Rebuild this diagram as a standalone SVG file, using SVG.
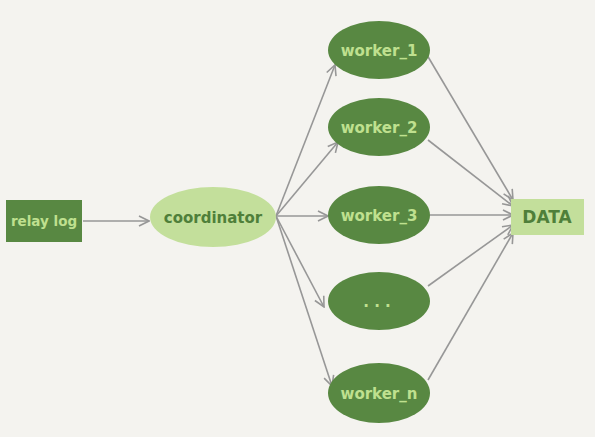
<svg xmlns="http://www.w3.org/2000/svg" width="595" height="437" viewBox="0 0 595 437">
  <defs>
    <marker id="arrow" viewBox="0 0 12 12" refX="11" refY="6" markerWidth="12" markerHeight="12" markerUnits="userSpaceOnUse" orient="auto">
      <path d="M1,1 L11,6 L1,11" fill="none" stroke="#979797" stroke-width="1.6"/>
    </marker>
    <style>
      .edge { stroke: #979797; stroke-width: 1.6; fill: none; marker-end: url(#arrow); }
      .dark { fill: #588842; }
      .light { fill: #c3df9b; }
      .t-light { fill: #bfe08f; font-family: "DejaVu Sans", sans-serif; font-size: 15px; font-weight: bold; text-anchor: middle; }
      .t-dark { fill: #4f7f3a; font-family: "DejaVu Sans", sans-serif; font-size: 15px; font-weight: bold; text-anchor: middle; }
    </style>
  </defs>
  <rect width="595" height="437" fill="#f4f3ef"/>

  <g id="connectors">
    <line class="edge" x1="83" y1="221" x2="149" y2="221"/>
    <line class="edge" x1="276" y1="216" x2="335" y2="65"/>
    <line class="edge" x1="276" y1="216" x2="338" y2="142"/>
    <line class="edge" x1="276" y1="216" x2="328" y2="216"/>
    <line class="edge" x1="276" y1="216" x2="324" y2="307"/>
    <line class="edge" x1="276" y1="216" x2="332" y2="386"/>
    <line class="edge" x1="427" y1="55" x2="513" y2="200"/>
    <line class="edge" x1="428" y1="140" x2="513" y2="206"/>
    <line class="edge" x1="430" y1="215" x2="513" y2="215"/>
    <line class="edge" x1="428" y1="286" x2="513" y2="225"/>
    <line class="edge" x1="428" y1="380" x2="513" y2="233"/>
  </g>

  <g id="relay-log">
    <rect class="dark" x="6" y="200" width="76" height="42"/>
    <text class="t-light" x="44" y="226" style="font-size:13.5px">relay log</text>
  </g>

  <g id="coordinator">
    <ellipse class="light" cx="213" cy="217" rx="63" ry="30"/>
    <text class="t-dark" x="213" y="223">coordinator</text>
  </g>

  <g id="worker-1">
    <ellipse class="dark" cx="379" cy="50" rx="51" ry="29"/>
    <text class="t-light" x="379" y="56">worker_1</text>
  </g>

  <g id="worker-2">
    <ellipse class="dark" cx="379" cy="127" rx="51" ry="29"/>
    <text class="t-light" x="379" y="133">worker_2</text>
  </g>

  <g id="worker-3">
    <ellipse class="dark" cx="379" cy="215" rx="51" ry="29"/>
    <text class="t-light" x="379" y="221">worker_3</text>
  </g>

  <g id="worker-etc">
    <ellipse class="dark" cx="379" cy="301" rx="51" ry="29"/>
    <text class="t-light" x="377" y="307">. . .</text>
  </g>

  <g id="worker-n">
    <ellipse class="dark" cx="379" cy="393" rx="51" ry="30"/>
    <text class="t-light" x="379" y="399">worker_n</text>
  </g>

  <g id="data">
    <rect class="light" x="511" y="199" width="73" height="36"/>
    <text class="t-dark" x="547" y="223" style="font-size:17px">DATA</text>
  </g>
</svg>
